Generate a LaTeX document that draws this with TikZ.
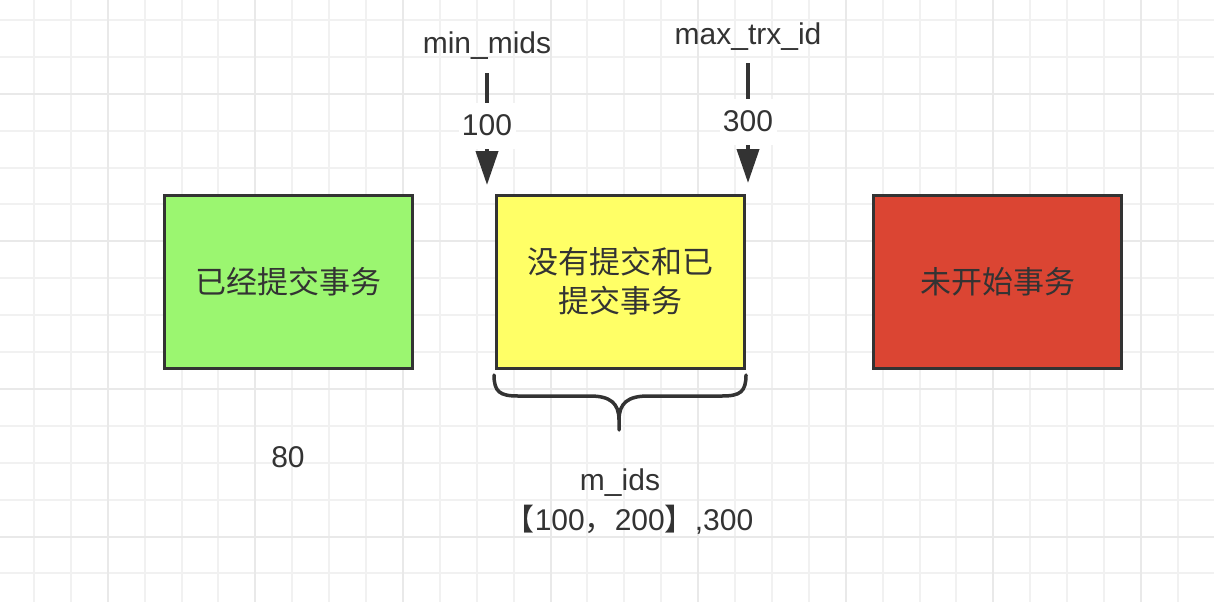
\documentclass[tikz,border=0pt]{standalone}
\usepackage{fontspec}
\setmainfont{Liberation Sans}
\newfontfamily\cjk{Noto Sans CJK SC}
\usetikzlibrary{arrows.meta}
\definecolor{ink}{HTML}{333333}
\definecolor{gmincol}{RGB}{241,241,241}
\definecolor{gmajcol}{RGB}{233,233,233}
\definecolor{boxgreen}{RGB}{155,246,112}
\definecolor{boxyellow}{RGB}{255,255,102}
\definecolor{boxred}{RGB}{219,69,51}
\tikzset{
  gmin/.style={draw=gmincol, line width=1.5pt},
  gmaj/.style={draw=gmajcol, line width=2pt},
  box/.style={draw=ink, line width=3pt, minimum width=248pt, minimum height=173pt,
    inner sep=0pt, text=ink, align=center, font=\cjk\fontsize{31}{39}\selectfont},
  lbl/.style={text=ink, inner sep=0pt, font=\fontsize{30}{36}\selectfont},
  numlbl/.style={lbl, fill=white, minimum width=57pt, minimum height=46pt},
  pointer/.style={draw=ink, line width=4pt, -{Triangle[width=22pt,length=34pt]}},
  bracepath/.style={draw=ink, line width=3.5pt, line cap=round, line join=round}
}
\begin{document}
\begin{tikzpicture}[x=1pt,y=-1pt]
\useasboundingbox (0,0) rectangle (1214,602);
\fill[white] (0,0) rectangle (1214,602);
% grid
\foreach \i in {-1,...,32}{
  \pgfmathtruncatemacro\m{mod(\i+4,4)}
  \pgfmathsetmacro\p{round(34+36.9*\i)}
  \ifnum\m=2\relax\else\draw[gmin] (\p,0) -- (\p,602);\fi}
\foreach \i in {-1,...,16}{
  \pgfmathtruncatemacro\m{mod(\i+4,4)}
  \pgfmathsetmacro\p{round(20+36.9*\i)}
  \ifnum\m=2\relax\else\draw[gmin] (0,\p) -- (1214,\p);\fi}
\foreach \i in {-1,...,32}{
  \pgfmathtruncatemacro\m{mod(\i+4,4)}
  \pgfmathsetmacro\p{round(34+36.9*\i)}
  \ifnum\m=2\relax\draw[gmaj] (\p,0) -- (\p,602);\fi}
\foreach \i in {-1,...,16}{
  \pgfmathtruncatemacro\m{mod(\i+4,4)}
  \pgfmathsetmacro\p{round(20+36.9*\i)}
  \ifnum\m=2\relax\draw[gmaj] (0,\p) -- (1214,\p);\fi}

% boxes
\node[box, fill=boxgreen] (done) at (288,281.5) {已经提交事务};
\node[box, fill=boxyellow] (active) at (620,281.5) {没有提交和已\\提交事务};
\node[box, fill=boxred] (future) at (997.5,281.5) {未开始事务};

% pointers
\node[lbl, anchor=base] (minlbl) at (487,54) {min\_mids};
\node[lbl, anchor=base] (maxlbl) at (748,45) {max\_trx\_id};
\coordinate (minS) at (487,73);
\coordinate (minE) at (487,185);
\coordinate (maxS) at (748,63);
\coordinate (maxE) at (748,183);
\draw[pointer] (minS) -- node[numlbl, pos=0.469] (minnum) {100} (minE);
\draw[pointer] (maxS) -- node[numlbl, pos=0.4875] (maxnum) {300} (maxE);

% brace
\draw[bracepath] (494,375) .. controls (494,392) and (500,396) .. (518,396)
  -- (590,396) .. controls (610,396) and (619,403) .. (619,420) -- (619,430)
  -- (619,420) .. controls (619,403) and (628,396) .. (648,396)
  -- (722,396) .. controls (740,396) and (746,392) .. (746,375);

% texts
\node[lbl, anchor=base] (eighty) at (288,467) {80};
\node[lbl, anchor=base] (mids) at (620,490) {m\_ids};
\node[lbl, anchor=base] (midsval) at (629,530) {{\cjk 【}100{\cjk ，}200{\cjk 】},300};
\end{tikzpicture}
\end{document}
